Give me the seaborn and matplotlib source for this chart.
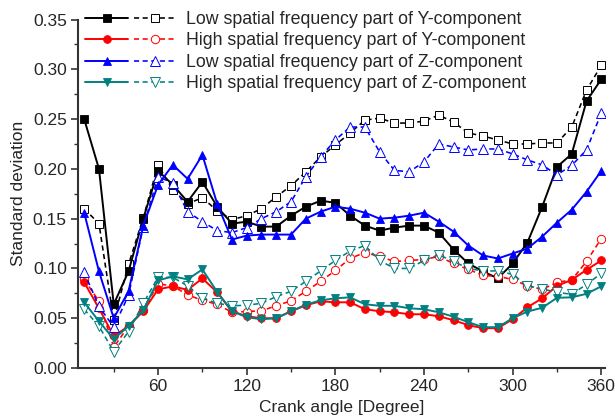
import numpy as np
import pandas as pd
import matplotlib
matplotlib.use("Agg")
import matplotlib.pyplot as plt
from matplotlib.legend_handler import HandlerTuple
from matplotlib.ticker import MultipleLocator, FormatStrFormatter
import seaborn as sns

# Crank angle positions (degrees)
crank_angle = list(range(10, 361, 10))

# Y-component, low spatial frequency part (two variants: solid / dashed)
y_low_a = [0.250, 0.200, 0.064, 0.097, 0.150, 0.198, 0.184, 0.167, 0.187, 0.162,
           0.145, 0.147, 0.142, 0.142, 0.153, 0.162, 0.168, 0.166, 0.153, 0.143,
           0.138, 0.141, 0.143, 0.143, 0.136, 0.119, 0.105, 0.097, 0.090, 0.105,
           0.126, 0.162, 0.202, 0.215, 0.268, 0.290]
y_low_b = [0.160, 0.145, 0.048, 0.104, 0.151, 0.204, 0.179, 0.165, 0.171, 0.158,
           0.149, 0.153, 0.160, 0.172, 0.183, 0.197, 0.212, 0.224, 0.236, 0.249,
           0.251, 0.246, 0.246, 0.248, 0.254, 0.247, 0.236, 0.233, 0.229, 0.225,
           0.225, 0.226, 0.226, 0.242, 0.279, 0.304]

# Y-component, high spatial frequency part
y_high_a = [0.086, 0.060, 0.032, 0.042, 0.057, 0.079, 0.082, 0.0785, 0.090, 0.076,
            0.057, 0.052, 0.050, 0.050, 0.057, 0.063, 0.067, 0.066, 0.066, 0.059,
            0.057, 0.056, 0.054, 0.054, 0.052, 0.048, 0.043, 0.040, 0.040, 0.049,
            0.061, 0.070, 0.0825, 0.0885, 0.0986, 0.108]
y_high_b = [0.089, 0.067, 0.021, 0.042, 0.058, 0.0845, 0.0825, 0.0734, 0.068, 0.064,
            0.056, 0.0567, 0.0575, 0.0625, 0.0675, 0.077, 0.087, 0.098, 0.110, 0.116,
            0.112, 0.107, 0.108, 0.109, 0.112, 0.105, 0.099, 0.093, 0.092, 0.089,
            0.0825, 0.079, 0.086, 0.0885, 0.107, 0.130]

# Z-component, low spatial frequency part
z_low_a = [0.156, 0.097, 0.050, 0.077, 0.143, 0.184, 0.204, 0.190, 0.214, 0.165,
           0.129, 0.133, 0.134, 0.134, 0.134, 0.150, 0.157, 0.162, 0.160, 0.156,
           0.150, 0.151, 0.153, 0.156, 0.147, 0.137, 0.123, 0.113, 0.110, 0.115,
           0.120, 0.132, 0.146, 0.159, 0.177, 0.198]
z_low_b = [0.096, 0.062, 0.041, 0.073, 0.142, 0.192, 0.186, 0.157, 0.147, 0.138,
           0.136, 0.141, 0.150, 0.157, 0.167, 0.192, 0.212, 0.229, 0.242, 0.242,
           0.217, 0.1985, 0.197, 0.207, 0.225, 0.222, 0.219, 0.220, 0.220, 0.215,
           0.209, 0.204, 0.194, 0.2035, 0.219, 0.256]

# Z-component, high spatial frequency part
z_high_a = [0.066, 0.047, 0.029, 0.042, 0.058, 0.088, 0.092, 0.089, 0.099, 0.0765,
            0.057, 0.051, 0.049, 0.050, 0.057, 0.0635, 0.068, 0.070, 0.071, 0.064,
            0.0625, 0.0625, 0.060, 0.059, 0.056, 0.0515, 0.046, 0.041, 0.041, 0.050,
            0.0567, 0.0605, 0.0705, 0.071, 0.0745, 0.082]
z_high_b = [0.059, 0.042, 0.0165, 0.0365, 0.065, 0.091, 0.091, 0.0825, 0.070, 0.065,
            0.0625, 0.063, 0.065, 0.0717, 0.077, 0.087, 0.0975, 0.108, 0.1175, 0.123,
            0.108, 0.100, 0.100, 0.108, 0.1137, 0.107, 0.100, 0.0975, 0.0975, 0.094,
            0.0827, 0.0795, 0.076, 0.074, 0.084, 0.095]

labels = ["Low spatial frequency part of Y-component",
          "High spatial frequency part of Y-component",
          "Low spatial frequency part of Z-component",
          "High spatial frequency part of Z-component"]

series = [
    (y_low_a, y_low_b, "#000000", "s", 5.2),
    (y_high_a, y_high_b, "#ff0000", "o", 5.6),
    (z_low_a, z_low_b, "#0000ff", "^", 6.2),
    (z_high_a, z_high_b, "#008080", "v", 6.2),
]

sns.set_style("ticks")
plt.rcParams["font.family"] = ["Liberation Sans", "DejaVu Sans"]
plt.rcParams["font.size"] = 12

fig = plt.figure(figsize=(6.15, 4.18), dpi=100)
ax = fig.add_axes([0.1268, 0.1196, 0.8569, 0.8337])

df = pd.DataFrame({"angle": crank_angle})
handles = []
for a_vals, b_vals, color, mk, ms in series:
    df["a"] = a_vals
    df["b"] = b_vals
    sns.lineplot(data=df, x="angle", y="b", ax=ax, color=color,
                 linestyle=(0, (3.2, 2.2)), linewidth=1.15,
                 marker=mk, markersize=ms + 0.4, markerfacecolor="white",
                 markeredgecolor=color, markeredgewidth=0.7, legend=False)
    dashed = ax.lines[-1]
    sns.lineplot(data=df, x="angle", y="a", ax=ax, color=color,
                 linewidth=1.4, marker=mk, markersize=ms,
                 markerfacecolor=color, markeredgecolor=color,
                 markeredgewidth=0.6, legend=False)
    solid = ax.lines[-1]
    handles.append((solid, dashed))

ax.set_xlim(5.8, 362.5)
ax.set_ylim(0, 0.35)
ax.xaxis.set_major_locator(MultipleLocator(60))
ax.xaxis.set_minor_locator(MultipleLocator(30))
ax.yaxis.set_major_locator(MultipleLocator(0.05))
ax.yaxis.set_minor_locator(MultipleLocator(0.025))
ax.yaxis.set_major_formatter(FormatStrFormatter("%.2f"))
ax.tick_params(which="major", direction="out", length=5, width=1.2,
               color="#333333", labelsize=12.5, pad=3)
ax.tick_params(which="minor", direction="out", length=3, width=1.0,
               color="#333333")
for side in ("top", "right"):
    ax.spines[side].set_visible(False)
for side in ("left", "bottom"):
    ax.spines[side].set_linewidth(1.5)
    ax.spines[side].set_color("#333333")

ax.set_xlabel("Crank angle [Degree]", fontsize=12.5, labelpad=4)
ax.set_ylabel("Standard deviation", fontsize=12.5, labelpad=5)

ax.legend(handles, labels, handler_map={tuple: HandlerTuple(ndivide=None, pad=0.3)},
          loc="upper left", bbox_to_anchor=(-0.004, 1.05), frameon=False,
          handlelength=5.2, handletextpad=0.5, labelspacing=0.25,
          borderpad=0.0, numpoints=1, fontsize=12.8)

fig.savefig("out.png", dpi=100)
